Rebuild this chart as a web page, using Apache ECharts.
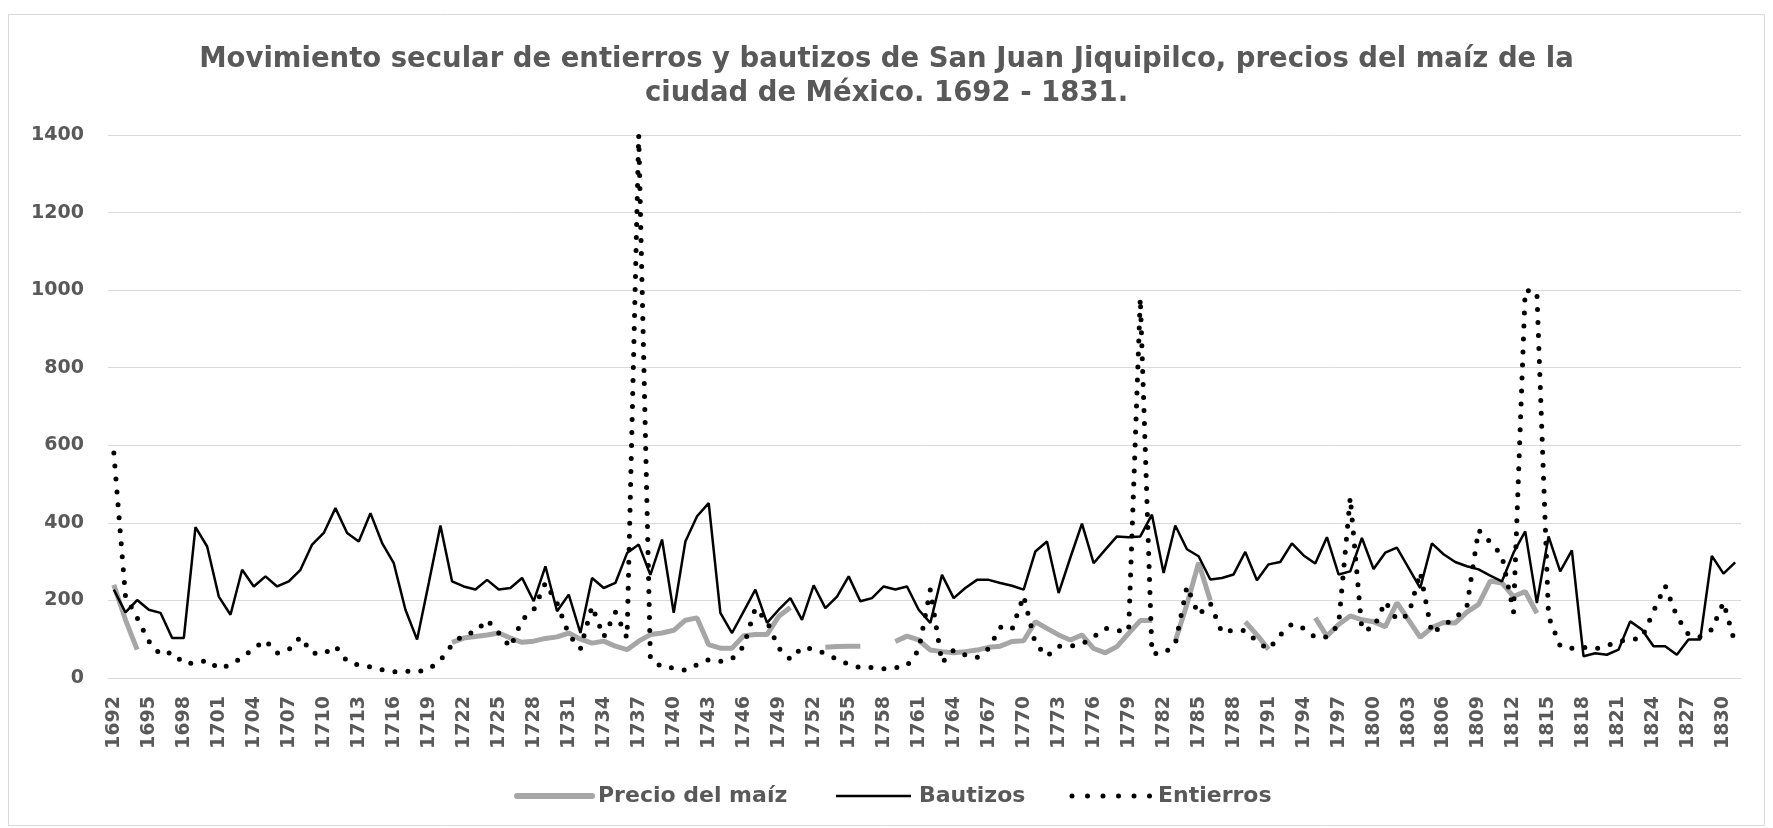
<!DOCTYPE html>
<html><head><meta charset="utf-8">
<script src="https://cdn.jsdelivr.net/npm/echarts@6/dist/echarts.min.js"></script>
<style>html,body{margin:0;padding:0;background:#fff}#c{width:1773px;height:828px}</style>
</head><body><div id="c"></div>
<script>
const startYear = 1692, endYear = 1831;
const years = [];
for (let y = startYear; y <= endYear; y++) years.push(String(y));

const seriesNames = ['Precio del maíz', 'Bautizos', 'Entierros'];

const precioMaiz = [
  240,150,73,null,null,null,null,null,null,null,
  null,null,null,null,null,null,null,null,null,null,
  null,null,null,null,null,null,null,null,null,92,
  103,107,111,116,103,92,95,102,106,116,
  100,90,95,82,73,95,112,116,123,149,
  155,86,77,77,109,112,112,159,182,null,
  null,79,81,82,82,null,null,94,108,98,
  72,68,65,68,72,79,82,94,96,145,
  128,111,98,111,76,65,81,115,148,148,
  null,95,190,297,200,null,null,145,111,74,
  null,null,null,155,108,138,160,150,145,132,
  194,150,105,130,143,142,170,190,250,245,
  210,223,167,null,null,null,null,null,null,null,
  null,null,null,null,null,null,null,null,null,null
];

const bautizos = [
  228,169,201,176,168,103,103,389,339,210,
  163,279,236,262,236,249,279,344,374,438,
  374,352,425,348,296,176,99,245,393,249,
  236,228,253,228,232,258,198,288,172,215,
  116,258,232,245,322,344,266,357,168,352,
  417,451,168,116,172,228,142,176,206,150,
  239,180,210,262,198,206,236,228,236,176,
  142,266,206,232,253,253,245,238,228,326,
  352,219,310,398,296,331,365,363,365,421,
  271,393,332,314,254,258,267,325,252,293,
  299,347,316,295,363,267,275,361,281,323,
  336,284,232,347,319,299,288,280,264,249,
  323,378,193,365,275,329,56,64,60,73,
  146,125,82,82,60,99,99,315,269,298
];

const entierros = [
  580,210,155,95,60,66,38,38,46,24,
  34,53,76,97,64,73,106,64,62,82,
  43,33,29,21,16,18,16,23,46,86,
  112,119,150,116,79,150,176,245,193,112,
  75,185,106,170,103,1400,50,28,26,20,
  34,47,43,49,82,180,146,77,48,79,
  74,63,48,35,27,27,24,26,32,72,
  228,39,72,59,53,76,131,125,212,89,
  56,82,82,87,106,128,122,122,980,63,
  63,87,236,163,193,117,124,122,94,74,
  111,139,128,105,106,137,466,124,128,197,
  150,163,273,115,137,154,184,382,350,316,
  170,1000,995,159,82,77,79,75,83,94,
  99,103,172,238,159,112,106,125,195,88
];

const yMin = 0, yMax = 1400, yStep = 200;
const textColor = '#595959';
const font = 'DejaVu Sans';
const greyColor = '#a6a6a6';

function legendItem(x1, x2, y, textX, name, lineStyle) {
  return [
    {type: 'line', silent: true, shape: {x1: x1, y1: y, x2: x2, y2: y}, style: lineStyle},
    {type: 'text', silent: true, style: {text: name, x: textX, y: y, fill: textColor,
      fontFamily: font, fontSize: 22, fontWeight: 'bold', verticalAlign: 'middle', align: 'left'}}
  ];
}
const legendY = 796;
const legendGraphics = [].concat(
  legendItem(517, 592, legendY, 598, seriesNames[0], {stroke: greyColor, lineWidth: 6, lineCap: 'round'}),
  legendItem(836, 911, legendY, 919, seriesNames[1], {stroke: '#000', lineWidth: 2.5}),
  legendItem(1072, 1152, legendY, 1158, seriesNames[2], {stroke: '#000', lineWidth: 5, lineDash: [0, 15.5], lineCap: 'round'})
);

const chart = echarts.init(document.getElementById('c'), null, {renderer: 'canvas'});
chart.setOption({
  animation: false,
  backgroundColor: '#ffffff',
  title: {
    text: 'Movimiento secular de entierros y bautizos de San Juan Jiquipilco, precios del maíz de la\nciudad de México. 1692 - 1831.',
    left: 'center',
    top: 38,
    textStyle: {fontFamily: font, fontSize: 27.5, fontWeight: 'bold', color: textColor, lineHeight: 34}
  },
  graphic: [{
    type: 'rect', silent: true,
    shape: {x: 8.5, y: 14.5, width: 1756, height: 811},
    style: {fill: 'none', stroke: '#d9d9d9', lineWidth: 1}
  }].concat(legendGraphics),
  grid: {left: 108, right: 32, top: 135, bottom: 150, containLabel: false},
  xAxis: {
    type: 'category', data: years, boundaryGap: true,
    axisLine: {show: true, lineStyle: {color: '#d9d9d9', width: 1}},
    axisTick: {show: false},
    axisLabel: {interval: 2, rotate: 90, margin: 18, fontFamily: font, fontSize: 19, fontWeight: 'bold', color: textColor}
  },
  yAxis: {
    type: 'value', min: yMin, max: yMax, interval: yStep,
    axisLine: {show: false}, axisTick: {show: false},
    axisLabel: {margin: 24, fontFamily: font, fontSize: 19, fontWeight: 'bold', color: textColor,
      formatter: function (v) { return String(v); }},
    splitLine: {lineStyle: {color: '#d9d9d9', width: 1}}
  },
  series: [
    {name: seriesNames[0], type: 'line', data: precioMaiz, symbol: 'none', connectNulls: false, z: 1,
     itemStyle: {color: greyColor}, lineStyle: {color: greyColor, width: 5}},
    {name: seriesNames[1], type: 'line', data: bautizos, symbol: 'none', z: 2,
     itemStyle: {color: '#000000'}, lineStyle: {color: '#000000', width: 2.5}},
    {name: seriesNames[2], type: 'line', data: entierros, symbol: 'none', z: 3,
     itemStyle: {color: '#000000'}, lineStyle: {color: '#000000', width: 5, type: [0, 13], cap: 'round'}}
  ]
});
</script>
</body></html>
